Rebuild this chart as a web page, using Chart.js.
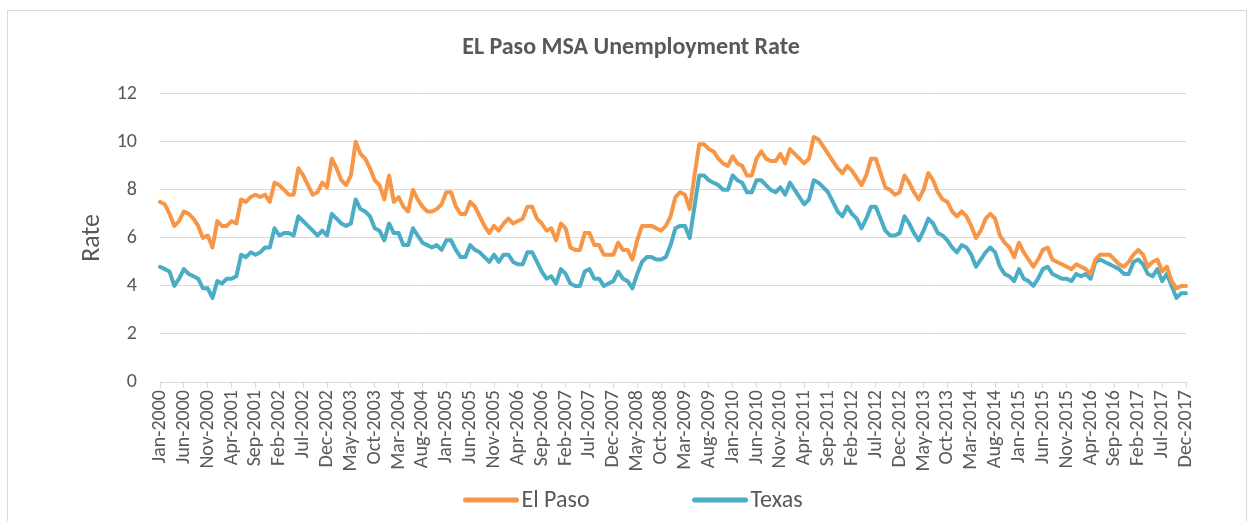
<!DOCTYPE html>
<html>
<head>
<meta charset="utf-8">
<script src="https://cdn.jsdelivr.net/npm/chart.js@4.4.1/dist/chart.umd.min.js"></script>
<style>
  html, body { margin: 0; padding: 0; background: #fff; }
  #frame { position: absolute; left: 7px; top: 10px; width: 1238px; height: 530px; border: 1px solid #d9d9d9; }
  #wrap { position: absolute; left: 0; top: 0; width: 1253px; height: 521px; }
</style>
</head>
<body>
<div id="frame"></div>
<div id="wrap"><canvas id="chart" width="1253" height="521"></canvas></div>
<script>
// monthly series Jan-2000 .. Dec-2017
const monthNames = ['Jan', 'Feb', 'Mar', 'Apr', 'May', 'Jun', 'Jul', 'Aug', 'Sep', 'Oct', 'Nov', 'Dec'];
const firstYear = 2000;
const lastYear = 2017;

const elPaso = [
  7.5, 7.4, 7.0, 6.5, 6.7, 7.1, 7.0, 6.8, 6.5, 6.0,
  6.1, 5.6, 6.7, 6.5, 6.5, 6.7, 6.6, 7.6, 7.5, 7.7,
  7.8, 7.7, 7.8, 7.5, 8.3, 8.2, 8.0, 7.8, 7.8, 8.9,
  8.6, 8.2, 7.8, 7.9, 8.3, 8.1, 9.3, 8.9, 8.4, 8.2,
  8.6, 10.0, 9.5, 9.3, 8.9, 8.4, 8.2, 7.6, 8.6, 7.5,
  7.7, 7.3, 7.1, 8.0, 7.6, 7.3, 7.1, 7.1, 7.2, 7.4,
  7.9, 7.9, 7.3, 7.0, 7.0, 7.5, 7.3, 6.9, 6.5, 6.2,
  6.5, 6.3, 6.6, 6.8, 6.6, 6.7, 6.8, 7.3, 7.3, 6.8,
  6.6, 6.3, 6.4, 5.9, 6.6, 6.4, 5.6, 5.5, 5.5, 6.2,
  6.2, 5.7, 5.7, 5.3, 5.3, 5.3, 5.8, 5.5, 5.5, 5.1,
  5.9, 6.5, 6.5, 6.5, 6.4, 6.3, 6.5, 6.9, 7.7, 7.9,
  7.8, 7.2, 8.6, 9.9, 9.9, 9.7, 9.6, 9.3, 9.1, 9.0,
  9.4, 9.1, 9.0, 8.6, 8.6, 9.3, 9.6, 9.3, 9.2, 9.2,
  9.5, 9.1, 9.7, 9.5, 9.3, 9.1, 9.3, 10.2, 10.1, 9.8,
  9.5, 9.2, 8.9, 8.7, 9.0, 8.8, 8.5, 8.2, 8.6, 9.3,
  9.3, 8.7, 8.1, 8.0, 7.8, 7.9, 8.6, 8.3, 7.9, 7.6,
  8.0, 8.7, 8.4, 7.9, 7.6, 7.5, 7.1, 6.9, 7.1, 6.9,
  6.5, 6.0, 6.3, 6.8, 7.0, 6.8, 6.1, 5.8, 5.6, 5.2,
  5.8, 5.4, 5.1, 4.8, 5.1, 5.5, 5.6, 5.1, 5.0, 4.9,
  4.8, 4.7, 4.9, 4.8, 4.7, 4.5, 5.1, 5.3, 5.3, 5.3,
  5.1, 4.9, 4.8, 5.0, 5.3, 5.5, 5.3, 4.8, 5.0, 5.1,
  4.6, 4.8, 4.2, 3.9, 4.0, 4.0
];

const texas = [
  4.8, 4.7, 4.6, 4.0, 4.3, 4.7, 4.5, 4.4, 4.3, 3.9,
  3.9, 3.5, 4.2, 4.1, 4.3, 4.3, 4.4, 5.3, 5.2, 5.4,
  5.3, 5.4, 5.6, 5.6, 6.4, 6.1, 6.2, 6.2, 6.1, 6.9,
  6.7, 6.5, 6.3, 6.1, 6.3, 6.1, 7.0, 6.8, 6.6, 6.5,
  6.6, 7.6, 7.2, 7.1, 6.9, 6.4, 6.3, 5.9, 6.6, 6.2,
  6.2, 5.7, 5.7, 6.4, 6.1, 5.8, 5.7, 5.6, 5.7, 5.5,
  5.9, 5.9, 5.5, 5.2, 5.2, 5.7, 5.5, 5.4, 5.2, 5.0,
  5.3, 5.0, 5.3, 5.3, 5.0, 4.9, 4.9, 5.4, 5.4, 5.0,
  4.6, 4.3, 4.4, 4.1, 4.7, 4.5, 4.1, 4.0, 4.0, 4.6,
  4.7, 4.3, 4.3, 4.0, 4.1, 4.2, 4.6, 4.3, 4.2, 3.9,
  4.5, 5.0, 5.2, 5.2, 5.1, 5.1, 5.2, 5.7, 6.4, 6.5,
  6.5, 6.0, 7.3, 8.6, 8.6, 8.4, 8.3, 8.2, 8.0, 8.0,
  8.6, 8.4, 8.3, 7.9, 7.9, 8.4, 8.4, 8.2, 8.0, 7.9,
  8.1, 7.8, 8.3, 8.0, 7.7, 7.4, 7.6, 8.4, 8.3, 8.1,
  7.9, 7.5, 7.1, 6.9, 7.3, 7.0, 6.8, 6.4, 6.8, 7.3,
  7.3, 6.8, 6.3, 6.1, 6.1, 6.2, 6.9, 6.6, 6.2, 5.9,
  6.3, 6.8, 6.6, 6.2, 6.1, 5.9, 5.6, 5.4, 5.7, 5.6,
  5.3, 4.8, 5.1, 5.4, 5.6, 5.4, 4.8, 4.5, 4.4, 4.2,
  4.7, 4.3, 4.2, 4.0, 4.3, 4.7, 4.8, 4.5, 4.4, 4.3,
  4.3, 4.2, 4.5, 4.4, 4.5, 4.3, 5.0, 5.1, 5.0, 4.9,
  4.8, 4.7, 4.5, 4.5, 5.0, 5.1, 4.9, 4.5, 4.4, 4.7,
  4.2, 4.5, 4.0, 3.5, 3.7, 3.7
];

// category labels, e.g. "Jan-2000"
const labels = [];
for (let y = firstYear; y <= lastYear; y++) {
  monthNames.forEach(m => labels.push(`${m}-${y}`));
}

const labelStep = 5;   // Excel shows every 5th month
const textColor = '#595959';
const gridColor = '#d9d9d9';
const fontFamily = 'Carlito, Lato, "Open Sans", sans-serif';

// Excel style legend: short thick line + label, centred under the plot
const lineLegend = {
  id: 'lineLegend',
  afterDraw(chart, args, opts) {
    const c = chart.ctx;
    c.save();
    c.font = `${opts.fontSize}px ${fontFamily}`;
    const items = chart.data.datasets.map(ds => ({
      text: ds.label,
      color: ds.borderColor,
      width: opts.lineLength + opts.textGap + c.measureText(ds.label).width
    }));
    const total = items.reduce((s, it) => s + it.width, 0) + opts.itemGap * (items.length - 1);
    let x = opts.center - total / 2;
    items.forEach(it => {
      c.strokeStyle = it.color;
      c.lineWidth = 5;
      c.lineCap = 'round';
      c.beginPath();
      c.moveTo(x + 2, opts.y);
      c.lineTo(x + opts.lineLength - 2, opts.y);
      c.stroke();
      c.fillStyle = textColor;
      c.textBaseline = 'middle';
      c.textAlign = 'left';
      c.fillText(it.text, x + opts.lineLength + opts.textGap, opts.y + 1);
      x += it.width + opts.itemGap;
    });
    c.restore();
  }
};

const ctx = document.getElementById('chart');
new Chart(ctx, {
  type: 'line',
  data: {
    labels: labels,
    datasets: [
      {
        label: 'El Paso',
        data: elPaso,
        borderColor: '#F79646',
        backgroundColor: '#F79646',
        borderWidth: 4,
        pointRadius: 0,
        tension: 0,
        borderJoinStyle: 'round',
        borderCapStyle: 'round'
      },
      {
        label: 'Texas',
        data: texas,
        borderColor: '#4BACC6',
        backgroundColor: '#4BACC6',
        borderWidth: 4,
        pointRadius: 0,
        tension: 0,
        borderJoinStyle: 'round',
        borderCapStyle: 'round'
      }
    ]
  },
  plugins: [lineLegend],
  options: {
    responsive: false,
    animation: false,
    layout: { padding: { left: 76, right: 67, top: 20, bottom: 30 } },
    plugins: {
      title: {
        display: true,
        text: 'EL Paso MSA Unemployment Rate',
        color: textColor,
        font: { family: fontFamily, size: 24, weight: 'bold' },
        padding: { top: 14, bottom: 31 }
      },
      legend: { display: false },
      tooltip: { enabled: false },
      lineLegend: { fontSize: 24, lineLength: 55, textGap: 3, itemGap: 103, center: 633, y: 500 }
    },
    scales: {
      x: {
        offset: false,
        afterFit: (scale) => { scale.height = 109; },
        grid: {
          drawOnChartArea: false,
          drawTicks: true,
          tickLength: 6,
          offset: false,
          color: (c) => (c.index % labelStep === 0 ? gridColor : 'rgba(0,0,0,0)')
        },
        border: { color: gridColor, width: 1 },
        ticks: {
          autoSkip: false,
          minRotation: 90,
          maxRotation: 90,
          padding: 2,
          color: textColor,
          font: { family: fontFamily, size: 20 },
          callback: function (value, index) {
            return index % labelStep === 0 ? labels[index] : '';
          }
        }
      },
      y: {
        min: 0,
        max: 12,
        afterFit: (scale) => { scale.width = 84; },
        ticks: {
          stepSize: 2,
          padding: 23,
          color: textColor,
          font: { family: fontFamily, size: 20 }
        },
        grid: { color: gridColor, lineWidth: 1, drawTicks: false },
        border: { display: false },
        title: {
          display: true,
          text: 'Rate',
          color: textColor,
          font: { family: fontFamily, size: 26 },
          padding: { top: 1, bottom: 0 }
        }
      }
    }
  }
});
</script>
</body>
</html>
